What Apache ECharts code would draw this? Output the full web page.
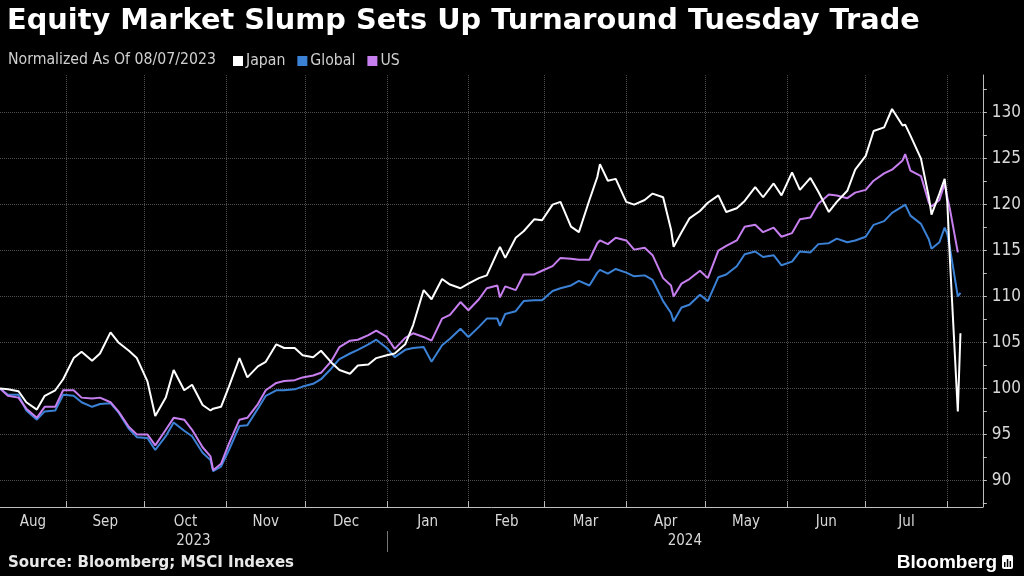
<!DOCTYPE html>
<html><head><meta charset="utf-8">
<script src="https://cdn.jsdelivr.net/npm/echarts@6/dist/echarts.min.js"></script>
<style>html,body{margin:0;background:#000}#c{width:1024px;height:576px}</style>
</head><body><div id="c"></div>
<script>
const dates = ['2023-08-07','2023-08-10','2023-08-14','2023-08-17','2023-08-21','2023-08-24','2023-08-28','2023-08-31',
'2023-09-04','2023-09-07','2023-09-11','2023-09-14','2023-09-18','2023-09-21','2023-09-25','2023-09-28',
'2023-10-02','2023-10-05','2023-10-09','2023-10-12','2023-10-16','2023-10-19','2023-10-23','2023-10-26','2023-10-27','2023-10-30',
'2023-11-02','2023-11-06','2023-11-09','2023-11-13','2023-11-16','2023-11-20','2023-11-23','2023-11-27','2023-11-30',
'2023-12-04','2023-12-07','2023-12-11','2023-12-14','2023-12-18','2023-12-21','2023-12-25','2023-12-28',
'2024-01-01','2024-01-04','2024-01-08','2024-01-11','2024-01-15','2024-01-18','2024-01-22','2024-01-25','2024-01-29',
'2024-02-01','2024-02-05','2024-02-08','2024-02-12','2024-02-13','2024-02-15','2024-02-19','2024-02-22','2024-02-26','2024-02-29',
'2024-03-04','2024-03-07','2024-03-11','2024-03-14','2024-03-18','2024-03-21','2024-03-22','2024-03-25','2024-03-28',
'2024-04-01','2024-04-04','2024-04-08','2024-04-11','2024-04-15','2024-04-18','2024-04-19','2024-04-22','2024-04-25','2024-04-29',
'2024-05-02','2024-05-06','2024-05-09','2024-05-13','2024-05-16','2024-05-20','2024-05-23','2024-05-27','2024-05-30',
'2024-06-03','2024-06-06','2024-06-10','2024-06-13','2024-06-17','2024-06-20','2024-06-24','2024-06-27',
'2024-07-01','2024-07-04','2024-07-08','2024-07-11','2024-07-15','2024-07-16','2024-07-18','2024-07-22','2024-07-25','2024-07-26','2024-07-29','2024-07-31',
'2024-08-01','2024-08-02','2024-08-05','2024-08-06'];

const japan = [100,99.9,99.7,98.5,97.7,99.2,99.8,101.0,
103.3,104.0,103.0,103.8,106.1,105.0,104.1,103.3,
100.8,97.0,99.0,102.0,99.8,100.4,98.2,97.6,97.8,98.0,
100.2,103.3,101.2,102.4,102.9,104.8,104.4,104.4,103.6,
103.4,104.1,102.8,102.0,101.6,102.5,102.6,103.3,
103.6,103.8,104.8,106.9,110.7,109.7,111.9,111.3,110.9,
111.4,112.0,112.3,114.8,115.4,114.2,116.4,117.1,118.4,118.3,
120.0,120.3,117.6,117.0,120.5,123.0,124.4,122.6,122.8,
120.3,120.0,120.5,121.2,120.8,117.3,115.4,117.0,118.5,119.3,
120.2,121.0,119.2,119.6,120.4,121.9,120.8,122.3,121.0,
123.5,121.6,122.9,121.4,119.2,120.3,121.5,123.8,
125.3,128.0,128.4,130.4,128.6,128.7,127.5,125.0,120.8,118.9,121.2,122.8,
120.3,114.0,97.5,106.0];

const global = [100,99.3,99.3,97.6,96.6,97.5,97.6,99.3,
99.2,98.5,98.0,98.3,98.4,97.4,95.6,94.7,
94.6,93.3,94.8,96.3,95.4,94.8,93.0,92.2,91.0,91.5,
93.3,95.9,96.0,97.8,99.2,99.8,99.8,99.9,100.2,
100.5,101.0,102.2,103.2,103.8,104.2,104.8,105.3,
104.4,103.4,104.2,104.4,104.5,102.9,104.7,105.4,106.5,
105.6,106.7,107.6,107.6,106.8,108.1,108.4,109.5,109.6,109.6,
110.6,110.9,111.2,111.7,111.2,112.6,112.9,112.5,113.0,
112.6,112.2,112.3,111.8,109.5,108.2,107.3,108.8,109.1,110.2,
109.5,112.1,112.4,113.3,114.6,114.9,114.3,114.5,113.4,
113.8,114.9,114.8,115.7,115.8,116.3,115.9,116.1,
116.5,117.8,118.2,119.1,119.8,120.0,118.8,117.9,116.2,115.2,115.9,117.5,
116.8,115.3,110.0,110.4];

const us = [100,99.2,99.0,97.8,96.8,98.0,98.0,99.8,
99.8,99.0,98.9,99.0,98.5,97.5,95.8,95.0,
95.0,93.8,95.5,96.8,96.6,95.5,93.6,92.6,91.1,91.8,
94.0,96.6,96.8,98.3,99.8,100.6,100.8,100.9,101.2,
101.4,101.7,103.0,104.5,105.2,105.3,105.8,106.3,
105.6,104.3,105.5,106.0,105.6,105.2,107.6,108.0,109.4,
108.5,109.7,110.9,111.2,109.9,111.1,110.7,112.4,112.4,112.8,
113.3,114.2,114.1,114.0,114.0,115.8,116.1,115.7,116.4,
116.1,115.1,115.3,114.5,112.0,111.2,110.0,111.4,111.9,112.8,
112.0,115.0,115.5,116.1,117.6,117.8,117.0,117.5,116.5,
116.9,118.4,118.6,120.1,121.1,121.0,120.7,121.3,
121.6,122.6,123.4,123.8,124.8,125.5,123.7,123.1,120.2,119.8,120.5,122.3,
120.8,119.5,114.8,null];

const seriesNames = ['Japan','Global','US'];
const monthTicks = ['2023-09-01','2023-10-01','2023-11-01','2023-12-01','2024-01-01','2024-02-01','2024-03-01',
'2024-04-01','2024-05-01','2024-06-01','2024-07-01','2024-08-01'];
const monthLabels = ['Aug','Sep','Oct','Nov','Dec','Jan','Feb','Mar','Apr','May','Jun','Jul'];
const yearBreak = '2024-01-01';
const yearLabels = ['2023','2024'];
const yLabels = [90,95,100,105,110,115,120,125,130];
const yTicks = [87.5,90,92.5,95,97.5,100,102.5,105,107.5,110,112.5,115,117.5,120,122.5,125,127.5,130,132.5];
const xMin = '2023-08-07', xMax = '2024-08-14T12:00:00';

const t = s => new Date(s.length === 10 ? s + 'T00:00:00' : s).getTime();
const bounds = [t(xMin)].concat(monthTicks.map(t));
const monthPos = monthLabels.map((m, i) => (bounds[i] + bounds[i + 1]) / 2);
const yearPos = [(t(xMin) + t(yearBreak)) / 2, (t(yearBreak) + t(xMax)) / 2];
const nearest = (v, pos, labels) => { let b = 0; pos.forEach((p, i) => { if (Math.abs(p - v) < Math.abs(pos[b] - v)) b = i; }); return labels[b]; };

const boldFont = 'DejaVu Sans';
const font = 'DejaVu Sans Condensed, DejaVu Sans';
const grid = '#4d4d4d';
const axisCol = '#bdbdbd';
const colors = { Japan: '#ffffff', Global: '#3b82d6', US: '#c77ff0' };
const vals = { Japan: japan, Global: global, US: us };

const chart = echarts.init(document.getElementById('c'), null, { renderer: 'canvas' });
chart.setOption({
  backgroundColor: '#000',
  animation: false,
  textStyle: { fontFamily: font },
  title: [
    { text: 'Equity Market Slump Sets Up Turnaround Tuesday Trade', left: 7, top: 7, padding: 0,
      textStyle: { color: '#fff', fontSize: 28.8, fontWeight: 'bold', fontFamily: boldFont } },
    { text: 'Normalized As Of 08/07/2023', left: 8, top: 52, padding: 0,
      textStyle: { color: '#d0d0d0', fontSize: 15.7, fontWeight: 'normal', fontFamily: font } },
    { text: 'Source: Bloomberg; MSCI Indexes', left: 8, top: 556, padding: 0,
      textStyle: { color: '#e8e8e8', fontSize: 15, fontWeight: 'bold', fontFamily: boldFont } },
    { text: 'Bloomberg', right: 27, top: 553, padding: 0,
      textStyle: { color: '#fff', fontSize: 19, fontWeight: 'bold', fontFamily: 'Liberation Sans' } }
  ],
  legend: {
    data: seriesNames, left: 233, top: 53, padding: 0, icon: 'rect', itemWidth: 10, itemHeight: 10, itemGap: 12,
    textStyle: { color: '#d0d0d0', fontSize: 15.7, fontFamily: font, padding: [0, 0, 0, -2] }
  },
  graphic: [
    { type: 'group', right: 11, top: 555, children: [
      { type: 'rect', shape: { x: 0, y: 0, width: 11, height: 14, r: 2 }, style: { fill: '#fff' } },
      { type: 'rect', shape: { x: 2, y: 7, width: 1.5, height: 5 }, style: { fill: '#000' } },
      { type: 'rect', shape: { x: 4.8, y: 4, width: 1.5, height: 8 }, style: { fill: '#000' } },
      { type: 'rect', shape: { x: 7.6, y: 6, width: 1.5, height: 6 }, style: { fill: '#000' } }
    ] }
  ],
  grid: { left: 0, right: 41, top: 75, bottom: 69, containLabel: false },
  xAxis: [
    { type: 'value', min: t(xMin), max: t(xMax),
      axisLine: { show: true, lineStyle: { color: axisCol, width: 1 } },
      axisTick: { show: true, inside: true, length: 6, customValues: monthTicks.map(t), lineStyle: { color: axisCol } },
      axisLabel: { customValues: monthPos, formatter: v => nearest(v, monthPos, monthLabels),
        color: '#d8d8d8', fontSize: 15, margin: 8, hideOverlap: false, fontFamily: font },
      splitLine: { show: true, lineStyle: { color: grid, type: 'dotted', width: 1 } } },
    { type: 'value', min: t(xMin), max: t(xMax), position: 'bottom', offset: 24, gridIndex: 0,
      axisLine: { show: false },
      axisTick: { show: true, inside: false, length: 21, customValues: [t(yearBreak)], lineStyle: { color: '#777' } },
      axisLabel: { customValues: yearPos, formatter: v => nearest(v, yearPos, yearLabels),
        color: '#d8d8d8', fontSize: 15, margin: 3, hideOverlap: false, fontFamily: font },
      splitLine: { show: false } }
  ],
  yAxis: {
    type: 'value', position: 'right', min: 87.1, max: 134.1,
    axisLine: { show: true, lineStyle: { color: axisCol } },
    axisTick: { show: true, length: 4, customValues: yTicks, lineStyle: { color: axisCol } },
    axisLabel: { customValues: yLabels, color: '#d8d8d8', fontSize: 17, margin: 9, fontFamily: font },
    splitLine: { show: true, lineStyle: { color: yTicks.map(v => v % 5 === 0 ? grid : 'rgba(0,0,0,0)'), type: 'dotted' } }
  },
  series: ['Global', 'US', 'Japan'].map(n => ({
    name: n, type: 'line', showSymbol: false, symbol: 'none', connectNulls: false,
    color: colors[n], lineStyle: { color: colors[n], width: 2 },
    data: dates.map((d, i) => [t(d), vals[n][i]])
  }))
});
</script>
</body></html>
